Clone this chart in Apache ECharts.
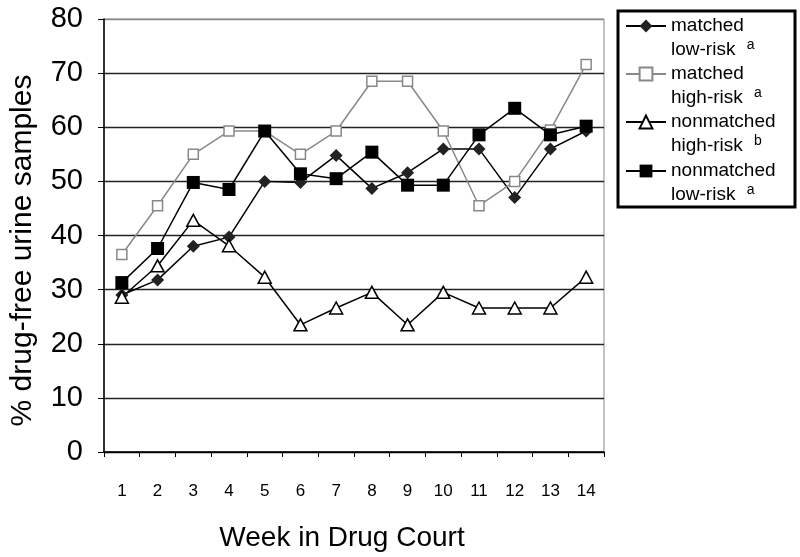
<!DOCTYPE html>
<html>
<head>
<meta charset="utf-8">
<script src="https://cdn.jsdelivr.net/npm/echarts@6/dist/echarts.min.js"></script>
<style>html,body{margin:0;padding:0;background:#fff}#c{width:800px;height:557px}</style>
</head>
<body>
<div id="c"></div>
<script>
var weeks = ['1','2','3','4','5','6','7','8','9','10','11','12','13','14'];
var matchedLow = [29, 31.8, 38, 39.7, 50, 49.8, 54.8, 48.7, 51.6, 56, 56, 47, 56, 59.3];
var matchedHigh = [36.5, 45.5, 55, 59.3, 59.3, 55, 59.3, 68.5, 68.5, 59.3, 45.5, 50, 59.5, 71.6];
var nonmatchedHigh = [28.6, 34.4, 42.8, 38.1, 32.3, 23.5, 26.6, 29.5, 23.5, 29.5, 26.6, 26.6, 26.6, 32.3];
var nonmatchedLow = [31.3, 37.6, 49.8, 48.5, 59.3, 51.4, 50.5, 55.4, 49.3, 49.3, 58.6, 63.5, 58.6, 60.2];
var seriesNames = ['matched low-risk', 'matched high-risk', 'nonmatched high-risk', 'nonmatched low-risk'];
var legendLines = [['matched', 'low-risk', 'a'], ['matched', 'high-risk', 'a'], ['nonmatched', 'high-risk', 'b'], ['nonmatched', 'low-risk', 'a']];

var FONT = '"Liberation Sans", Arial, Helvetica, sans-serif';
var chart = echarts.init(document.getElementById('c'), null, {renderer: 'canvas'});

function mkLegend(i, iconY) {
  return {
    show: true,
    data: [seriesNames[i]],
    orient: 'vertical',
    left: 625,
    top: iconY - 35,
    padding: 0,
    itemWidth: 40,
    itemHeight: 16,
    itemGap: 0,
    selectedMode: false,
    formatter: function (name) {
      var idx = seriesNames.indexOf(name);
      var l = legendLines[idx];
      return l[0] + '\n' + l[1] + ' {sup|' + l[2] + '}';
    },
    textStyle: {
      fontFamily: FONT,
      fontSize: 19,
      color: '#000',
      lineHeight: 24,
      padding: [24, 0, 0, 0],
      rich: {
        sup: {fontFamily: FONT, fontSize: 14, color: '#000', verticalAlign: 'top', padding: [0, 0, 0, 6], lineHeight: 24}
      }
    }
  };
}

var option = {
  backgroundColor: '#fff',
  animation: false,
  grid: {left: 104, right: 196, top: 19, bottom: 93, show: true, borderColor: '#888', borderWidth: 1},
  legend: [mkLegend(0, 25), mkLegend(1, 73), mkLegend(2, 121), mkLegend(3, 170)],
  graphic: [{
    type: 'rect',
    shape: {x: 618, y: 11, width: 177, height: 196},
    style: {fill: 'none', stroke: '#000', lineWidth: 3},
    silent: true
  }],
  xAxis: {
    type: 'category',
    data: weeks,
    boundaryGap: true,
    name: 'Week in Drug Court',
    nameLocation: 'middle',
    nameGap: 72,
    nameTextStyle: {fontFamily: FONT, fontSize: 28, color: '#000', padding: [0, 24, 0, 0]},
    axisLine: {lineStyle: {color: '#000', width: 1.5}},
    axisTick: {show: true, inside: false, length: 5, alignWithLabel: false, lineStyle: {color: '#000'}},
    axisLabel: {fontFamily: FONT, fontSize: 17, color: '#000', margin: 31, interval: 0},
    splitLine: {show: false}
  },
  yAxis: {
    type: 'value',
    min: 0,
    max: 80,
    interval: 10,
    name: '% drug-free urine samples',
    nameLocation: 'middle',
    nameGap: 66,
    nameTextStyle: {fontFamily: FONT, fontSize: 30, color: '#000', padding: [0, 30, 0, 0]},
    axisLine: {show: true, lineStyle: {color: '#000', width: 1.5}},
    axisTick: {show: true, inside: false, length: 6, lineStyle: {color: '#000'}},
    axisLabel: {fontFamily: FONT, fontSize: 29, color: '#000', margin: 21},
    splitLine: {show: true, lineStyle: {color: ['#000', '#222', '#222', '#222', '#222', '#222', '#222', '#222', '#888'], width: 1.3}}
  },
  series: [
    {
      name: seriesNames[0], type: 'line', data: matchedLow,
      symbol: 'diamond', symbolSize: 13,
      lineStyle: {color: '#000', width: 1.5},
      itemStyle: {color: '#222', borderColor: '#222', borderWidth: 0}
    },
    {
      name: seriesNames[1], type: 'line', data: matchedHigh,
      symbol: 'rect', symbolSize: 10,
      lineStyle: {color: '#888', width: 1.5},
      itemStyle: {color: '#fff', borderColor: '#888', borderWidth: 1.5}
    },
    {
      name: seriesNames[2], type: 'line', data: nonmatchedHigh,
      symbol: 'triangle', symbolSize: [13, 12],
      lineStyle: {color: '#000', width: 1.5},
      itemStyle: {color: '#fff', borderColor: '#000', borderWidth: 1.5}
    },
    {
      name: seriesNames[3], type: 'line', data: nonmatchedLow,
      symbol: 'rect', symbolSize: 13,
      lineStyle: {color: '#000', width: 1.5},
      itemStyle: {color: '#000', borderColor: '#000', borderWidth: 0}
    }
  ]
};
chart.setOption(option);
</script>
</body>
</html>
